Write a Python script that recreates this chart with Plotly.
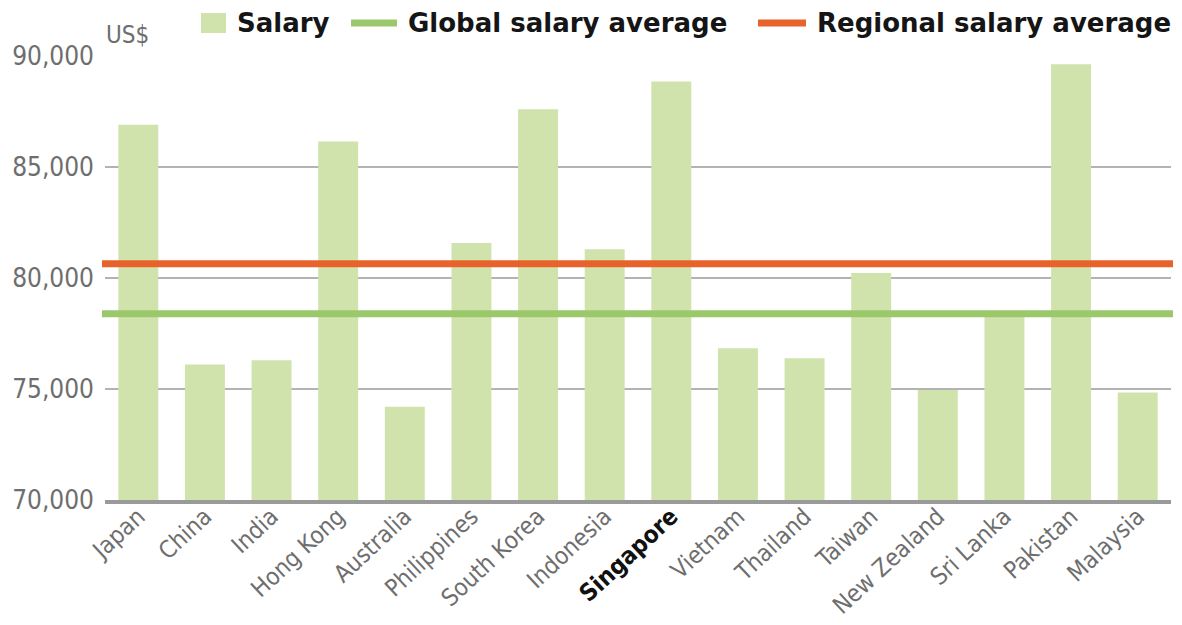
import plotly.graph_objects as go

countries = ["Japan", "China", "India", "Hong Kong", "Australia", "Philippines",
             "South Korea", "Indonesia", "Singapore", "Vietnam", "Thailand", "Taiwan",
             "New Zealand", "Sri Lanka", "Pakistan", "Malaysia"]
salary = [86900, 76100, 76300, 86150, 74200, 81580, 87600, 81300, 88850,
          76830, 76380, 80230, 74960, 78300, 89630, 74840]
global_avg = 78390
regional_avg = 80640
y_ticks = [70000, 75000, 80000, 85000, 90000]
y_tick_text = ["70,000", "75,000", "80,000", "85,000", "90,000"]
highlight = "Singapore"

OFF = 8  # page body margin
W, H = 1166, 617
ML, MR, MT, MB = 97, 3, 48, 125
PW, PH = W - ML - MR, H - MT - MB

def px(x):
    return (x - OFF - ML) / PW

def py(y):
    return (H - MB - (y - OFF)) / PH

BAR = "#d1e3ad"
GREEN = "#9cc86c"
ORANGE = "#e8632b"
GRAY = "#6e6e6e"

tick_text = [f"<b><span style='color:#111111'>{c}</span></b>" if c == highlight else c
             for c in countries]

fig = go.Figure()
fig.add_trace(go.Bar(x=countries, y=salary, marker_color=BAR, marker_line_width=0,
                     showlegend=False))

shapes = [
    dict(type="line", xref="paper", yref="y", x0=px(102), x1=px(1173),
         y0=global_avg, y1=global_avg, line=dict(color=GREEN, width=7), layer="above"),
    dict(type="line", xref="paper", yref="y", x0=px(102), x1=px(1173),
         y0=regional_avg, y1=regional_avg, line=dict(color=ORANGE, width=7), layer="above"),
    # legend symbols
    dict(type="rect", xref="paper", yref="paper", x0=px(201), x1=px(226),
         y0=py(33), y1=py(13), fillcolor=BAR, line_width=0),
    dict(type="line", xref="paper", yref="paper", x0=px(351), x1=px(397),
         y0=py(23), y1=py(23), line=dict(color=GREEN, width=7)),
    dict(type="line", xref="paper", yref="paper", x0=px(758), x1=px(806),
         y0=py(23), y1=py(23), line=dict(color=ORANGE, width=7)),
]

LEG_FONT = dict(family="DejaVu Sans", size=26, color="#151515")
annotations = [
    dict(text="<b>Salary</b>", x=px(235), y=py(23), xref="paper", yref="paper",
         xanchor="left", yanchor="middle", showarrow=False, font=LEG_FONT),
    dict(text="<b>Global salary average</b>", x=px(406), y=py(23), xref="paper",
         yref="paper", xanchor="left", yanchor="middle", showarrow=False, font=LEG_FONT),
    dict(text="<b>Regional salary average</b>", x=px(815), y=py(23), xref="paper",
         yref="paper", xanchor="left", yanchor="middle", showarrow=False, font=LEG_FONT),
    dict(text="US$", x=px(104), y=py(35), xref="paper", yref="paper",
         xanchor="left", yanchor="middle", showarrow=False,
         font=dict(family="DejaVu Sans Condensed", size=24, color=GRAY)),
]

fig.update_layout(
    width=W, height=H,
    margin=dict(l=ML, r=MR, t=MT, b=MB, autoexpand=False),
    paper_bgcolor="white", plot_bgcolor="white",
    bargap=0.4,
    shapes=shapes, annotations=annotations,
    xaxis=dict(tickmode="array", tickvals=countries, ticktext=tick_text,
               tickangle=-43, showgrid=False, showline=True, linecolor="#9a9a9a",
               linewidth=4, ticks="", automargin=False, ticklabelstandoff=-11,
               tickfont=dict(family="DejaVu Sans Condensed", size=24, color=GRAY)),
    yaxis=dict(range=[70000, 90000], tickmode="array", tickvals=y_ticks,
               ticktext=y_tick_text, showgrid=True, gridcolor="#b3b3b3", gridwidth=1.5,
               zeroline=False, ticks="", ticklabelstandoff=10, automargin=False,
               tickfont=dict(family="DejaVu Sans Condensed", size=26, color=GRAY)),
)

fig.write_html("out.html")
